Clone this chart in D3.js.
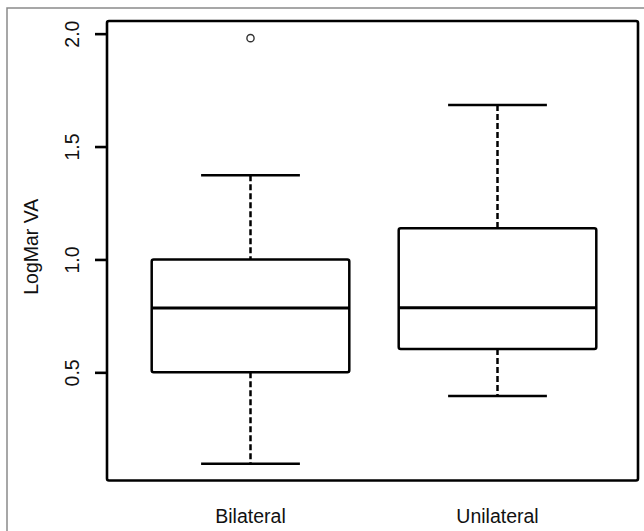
<!DOCTYPE html>
<html>
<head>
<meta charset="utf-8">
<script src="https://cdn.jsdelivr.net/npm/d3@7"></script>
<style>
  html, body { margin: 0; padding: 0; background: #fff; }
  svg { display: block; }
  text { font-family: "Liberation Sans", Arial, sans-serif; fill: #111; }
</style>
</head>
<body>
<svg id="chart" width="644" height="531"></svg>
<script>
// ---- data ----
const categories   = ["Bilateral", "Unilateral"];
const whiskerLow   = [0.095, 0.395];
const q1           = [0.50, 0.603];
const median       = [0.785, 0.786];
const q3           = [1.00, 1.138];
const whiskerHigh  = [1.373, 1.684];
const outliers     = [[1.98], []];
const yTicks       = [0.5, 1.0, 1.5, 2.0];
const yTickLabels  = ["0.5", "1.0", "1.5", "2.0"];
const yTitle       = "LogMar VA";

// ---- layout ----
const svg = d3.select("#chart");
const plot = { left: 107, right: 638, top: 21, bottom: 480.5 };
const FS = "19.5px";

const y = d3.scaleLinear().domain([0.021, 2.056]).range([plot.bottom, plot.top]);
const x = d3.scaleLinear().domain([1, 2]).range([250.5, 497.5]);
const boxW = x(1.4) - x(0.6);
const capW = boxW / 2;

// outer picture frame (grey, top & left)
svg.append("path")
  .attr("d", "M7,531 L7,8 L644,8")
  .attr("fill", "none").attr("stroke", "#8a8a8a").attr("stroke-width", 1.5);

const data = categories.map((c, i) => ({
  c, i: i + 1, lo: whiskerLow[i], q1: q1[i], med: median[i], q3: q3[i], hi: whiskerHigh[i], out: outliers[i]
}));

const g = svg.append("g");
const bx = g.selectAll("g.box").data(data).enter().append("g").attr("class", "box");

// whiskers dashed
bx.append("line")
  .attr("x1", d => x(d.i)).attr("x2", d => x(d.i))
  .attr("y1", d => y(d.hi)).attr("y2", d => y(d.q3))
  .attr("stroke", "#000").attr("stroke-width", 2.5).attr("stroke-dasharray", "6,3");
bx.append("line")
  .attr("x1", d => x(d.i)).attr("x2", d => x(d.i))
  .attr("y1", d => y(d.q1)).attr("y2", d => y(d.lo))
  .attr("stroke", "#000").attr("stroke-width", 2.5).attr("stroke-dasharray", "6,3");
// caps
bx.append("line")
  .attr("x1", d => x(d.i) - capW / 2).attr("x2", d => x(d.i) + capW / 2)
  .attr("y1", d => y(d.hi)).attr("y2", d => y(d.hi))
  .attr("stroke", "#000").attr("stroke-width", 2.5);
bx.append("line")
  .attr("x1", d => x(d.i) - capW / 2).attr("x2", d => x(d.i) + capW / 2)
  .attr("y1", d => y(d.lo)).attr("y2", d => y(d.lo))
  .attr("stroke", "#000").attr("stroke-width", 2.5);
// box
bx.append("rect")
  .attr("x", d => x(d.i) - boxW / 2).attr("width", boxW)
  .attr("y", d => y(d.q3)).attr("height", d => y(d.q1) - y(d.q3))
  .attr("fill", "#fff").attr("stroke", "#000").attr("stroke-width", 2.5)
  .attr("stroke-linejoin", "round").attr("rx", 2);
// median
bx.append("line")
  .attr("x1", d => x(d.i) - boxW / 2).attr("x2", d => x(d.i) + boxW / 2)
  .attr("y1", d => y(d.med)).attr("y2", d => y(d.med))
  .attr("stroke", "#000").attr("stroke-width", 3.2);
// outliers
bx.selectAll("circle").data(d => d.out.map(v => ({ i: d.i, v }))).enter().append("circle")
  .attr("cx", d => x(d.i)).attr("cy", d => y(d.v)).attr("r", 3.6)
  .attr("fill", "none").attr("stroke", "#333").attr("stroke-width", 1.4);

// plot frame
svg.append("rect")
  .attr("x", plot.left).attr("y", plot.top)
  .attr("width", plot.right - plot.left).attr("height", plot.bottom - plot.top)
  .attr("fill", "none").attr("stroke", "#000").attr("stroke-width", 2.6)
  .attr("rx", 2).attr("stroke-linejoin", "round");

// y axis
const yAxis = d3.axisLeft(y).tickValues(yTicks).tickSize(12)
  .tickFormat((d, i) => yTickLabels[i]);
const ya = svg.append("g").attr("transform", `translate(${plot.left},0)`).call(yAxis);
ya.select(".domain").remove();
ya.selectAll(".tick line").attr("stroke", "#000").attr("stroke-width", 2.6);
ya.selectAll(".tick text")
  .attr("x", null).attr("dy", null)
  .attr("transform", "translate(-28.5,0) rotate(-90)")
  .attr("text-anchor", "middle")
  .style("font-size", FS)
  .style("font-family", "'Liberation Sans', Arial, sans-serif")
  .attr("fill", "#111");

// y title
svg.append("text")
  .attr("transform", `translate(37.5,${(plot.top + plot.bottom) / 2 - 4}) rotate(-90)`)
  .attr("text-anchor", "middle")
  .style("font-size", FS)
  .text(yTitle);

// x category labels
svg.selectAll("text.xl").data(data).enter().append("text")
  .attr("class", "xl")
  .attr("x", d => x(d.i)).attr("y", 523)
  .attr("text-anchor", "middle")
  .style("font-size", FS)
  .text(d => d.c);
</script>
</body>
</html>
